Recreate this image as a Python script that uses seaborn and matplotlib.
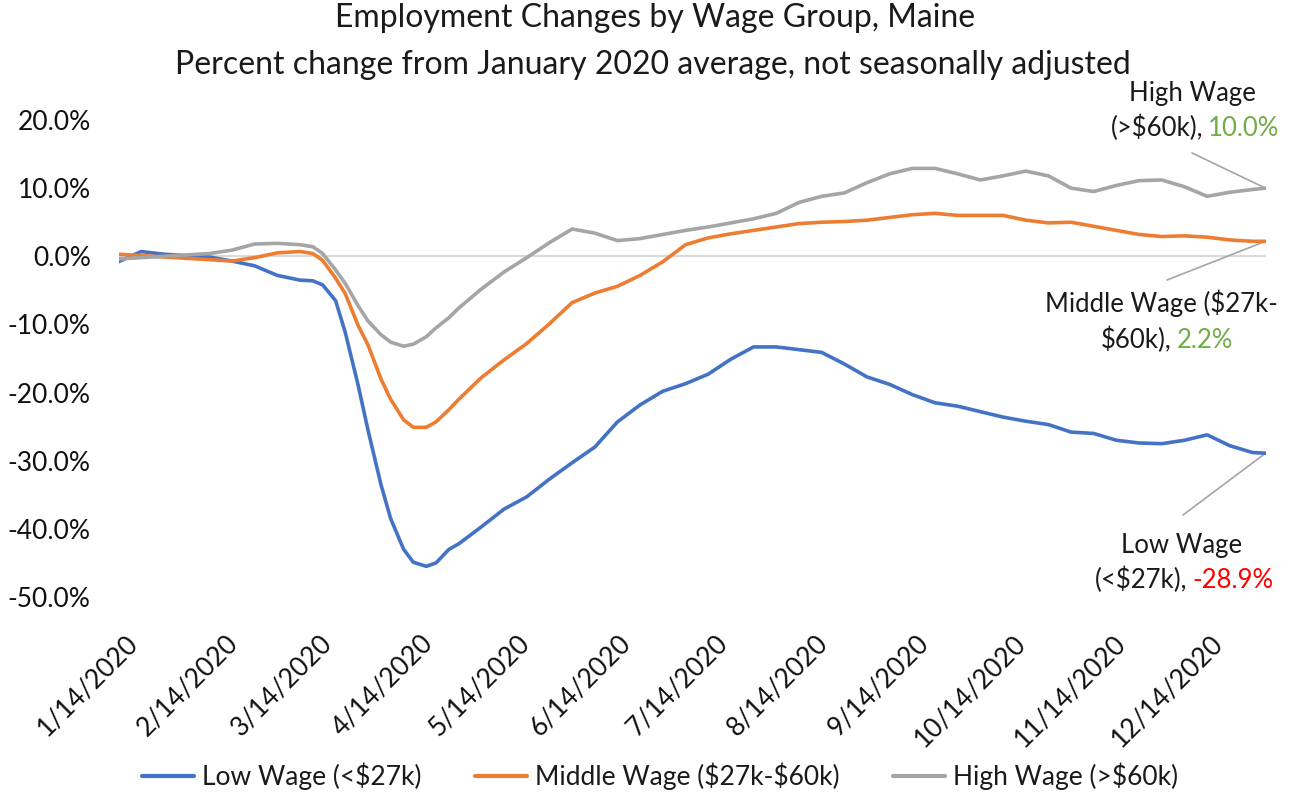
import matplotlib
matplotlib.use("Agg")
import matplotlib.pyplot as plt
import matplotlib.dates as mdates
from matplotlib.ticker import FuncFormatter, FixedLocator
from matplotlib.lines import Line2D
import seaborn as sns
import pandas as pd
import numpy as np

# ---------------- data ----------------
dates = [
    "2020-01-12", "2020-01-19", "2020-01-26", "2020-02-02", "2020-02-09", "2020-02-16",
    "2020-02-23", "2020-03-01", "2020-03-08", "2020-03-12", "2020-03-15", "2020-03-19",
    "2020-03-22", "2020-03-26", "2020-03-29", "2020-04-02", "2020-04-05", "2020-04-09",
    "2020-04-12", "2020-04-16", "2020-04-19", "2020-04-23", "2020-04-26", "2020-05-03",
    "2020-05-10", "2020-05-17", "2020-05-24", "2020-05-31", "2020-06-07", "2020-06-14",
    "2020-06-21", "2020-06-28", "2020-07-05", "2020-07-12", "2020-07-19", "2020-07-26",
    "2020-08-02", "2020-08-09", "2020-08-16", "2020-08-23", "2020-08-30", "2020-09-06",
    "2020-09-13", "2020-09-20", "2020-09-27", "2020-10-04", "2020-10-11", "2020-10-18",
    "2020-10-25", "2020-11-01", "2020-11-08", "2020-11-15", "2020-11-22", "2020-11-29",
    "2020-12-06", "2020-12-13", "2020-12-20", "2020-12-27", "2020-12-31",
]

low_wage = [
    -0.8, 0.7, 0.3, 0.1, -0.1, -0.7,
    -1.4, -2.8, -3.5, -3.6, -4.2, -6.5,
    -11.2, -19.0, -25.5, -33.5, -38.5, -43.0,
    -44.9, -45.5, -45.0, -43.0, -42.2, -39.7,
    -37.1, -35.3, -32.7, -30.3, -28.0, -24.3,
    -21.8, -19.8, -18.7, -17.3, -15.1, -13.3,
    -13.3, -13.7, -14.1, -15.8, -17.7, -18.8,
    -20.3, -21.5, -22.0, -22.8, -23.6, -24.2,
    -24.7, -25.8, -26.0, -27.0, -27.4, -27.5,
    -27.0, -26.2, -27.8, -28.8, -28.9,
]

middle_wage = [
    0.3, 0.1, -0.1, -0.3, -0.5, -0.7,
    -0.2, 0.5, 0.7, 0.4, -0.6, -3.2,
    -5.5, -10.2, -13.0, -18.0, -21.0, -24.0,
    -25.1, -25.1, -24.3, -22.5, -21.0, -17.8,
    -15.2, -12.8, -9.9, -6.8, -5.4, -4.4,
    -2.8, -0.8, 1.7, 2.7, 3.3, 3.8,
    4.3, 4.8, 5.0, 5.1, 5.3, 5.7,
    6.1, 6.3, 6.0, 6.0, 6.0, 5.3,
    4.9, 5.0, 4.4, 3.8, 3.2, 2.9,
    3.0, 2.8, 2.4, 2.2, 2.2,
]

high_wage = [
    -0.4, -0.2, 0.0, 0.2, 0.4, 0.9,
    1.8, 1.9, 1.7, 1.4, 0.4, -2.0,
    -4.0, -7.3, -9.5, -11.5, -12.6, -13.2,
    -12.9, -11.8, -10.5, -9.0, -7.6, -4.8,
    -2.3, -0.2, 2.0, 4.0, 3.4, 2.3,
    2.6, 3.2, 3.8, 4.3, 4.9, 5.5,
    6.3, 7.9, 8.8, 9.3, 10.8, 12.1,
    12.9, 12.9, 12.1, 11.2, 11.8, 12.5,
    11.8, 10.0, 9.5, 10.4, 11.1, 11.2,
    10.2, 8.8, 9.4, 9.8, 10.0,
]

series_names = ["Low Wage (<$27k)", "Middle Wage ($27k-$60k)", "High Wage (>$60k)"]
series_colors = ["#4472C4", "#ED7D31", "#A5A5A5"]
y_ticks = [20, 10, 0, -10, -20, -30, -40, -50]

title_lines = ["Employment Changes by Wage Group, Maine",
               "Percent change from January 2020 average, not seasonally adjusted"]

# ---------------- frame ----------------
d = pd.to_datetime(dates)
df = pd.concat([
    pd.DataFrame({"date": d, "value": low_wage, "group": series_names[0]}),
    pd.DataFrame({"date": d, "value": middle_wage, "group": series_names[1]}),
    pd.DataFrame({"date": d, "value": high_wage, "group": series_names[2]}),
], ignore_index=True)

sns.set_theme(style="white")
plt.rcParams["font.family"] = ["Lato", "DejaVu Sans"]
plt.rcParams["text.color"] = "#1a1a1a"
plt.rcParams["text.parse_math"] = False

W, H = 1290, 800
fig = plt.figure(figsize=(W / 100, H / 100), dpi=100)

def fx(px):
    return px / W

def fy(py):
    return 1 - py / H

ax = fig.add_axes([fx(118.5), fy(597), fx(1265.5) - fx(118.5), fy(120) - fy(597)])

ax.axhline(0, color="#D9D9D9", lw=1.5, zorder=1)

palette = dict(zip(series_names, series_colors))
sns.lineplot(data=df, x="date", y="value", hue="group", hue_order=series_names,
             palette=palette, linewidth=2.6, legend=False, ax=ax, zorder=3)

ax.set_xlim(d[0], d[-1])
ax.set_ylim(-50, 20)
for s in ax.spines.values():
    s.set_visible(False)
ax.grid(False)
ax.set_xlabel("")
ax.set_ylabel("")

ax.yaxis.set_major_locator(FixedLocator(y_ticks))
ax.yaxis.set_major_formatter(FuncFormatter(lambda v, p: f"{v:.1f}%"))
ax.tick_params(axis="y", length=0, pad=20, labelsize=19, labelcolor="#111111")

ax.xaxis.set_major_locator(mdates.MonthLocator(bymonthday=14))
ax.xaxis.set_major_formatter(FuncFormatter(
    lambda v, p: (lambda t: f"{t.month}/{t.day}/{t.year}")(mdates.num2date(v))))
ax.tick_params(axis="x", length=0, pad=24, labelsize=19, labelcolor="#111111")
for lab in ax.get_xticklabels():
    lab.set_rotation(45)
    lab.set_ha("right")
    lab.set_va("top")
    lab.set_rotation_mode("anchor")

# ---------------- title ----------------
fig.text(fx(655), fy(18), title_lines[0], ha="center", va="center", fontsize=23)
fig.text(fx(653), fy(65), title_lines[1], ha="center", va="center", fontsize=23)

# ---------------- end labels ----------------
ann_fs = 18.5
green = "#70AD47"
red = "#FF0000"
leader = "#A5A5A5"
ends = [low_wage[-1], middle_wage[-1], high_wage[-1]]

def leader_line(px, py, yval):
    ax.annotate("", xy=(d[-1], yval), xycoords="data",
                xytext=(fx(px), fy(py)), textcoords="figure fraction",
                arrowprops=dict(arrowstyle="-", color=leader, lw=1.2,
                                shrinkA=0, shrinkB=0), zorder=2)

# High wage
fig.text(fx(1192), fy(93), "High Wage", ha="center", va="center", fontsize=ann_fs)
fig.text(fx(1203), fy(128), "(>$60k),", ha="right", va="center", fontsize=ann_fs)
fig.text(fx(1208), fy(128), f"{ends[2]:.1f}%", ha="left", va="center",
         fontsize=ann_fs, color=green)
leader_line(1192, 153, ends[2])

# Middle wage
fig.text(fx(1161), fy(303), "Middle Wage ($27k-", ha="center", va="center", fontsize=ann_fs)
fig.text(fx(1172), fy(340), "$60k),", ha="right", va="center", fontsize=ann_fs)
fig.text(fx(1177), fy(340), f"{ends[1]:.1f}%", ha="left", va="center",
         fontsize=ann_fs, color=green)
leader_line(1167, 280, ends[1])

# Low wage
fig.text(fx(1182), fy(545), "Low Wage", ha="center", va="center", fontsize=ann_fs)
fig.text(fx(1187), fy(580), "(<$27k),", ha="right", va="center", fontsize=ann_fs)
fig.text(fx(1192), fy(580), f"{ends[0]:.1f}%", ha="left", va="center",
         fontsize=ann_fs, color=red)
leader_line(1183, 515, ends[0])

# ---------------- legend ----------------
handles = [Line2D([0], [0], color=c, lw=3) for c in series_colors]
fig.legend(handles, series_names, loc="center", bbox_to_anchor=(fx(660), fy(776)),
           ncol=3, frameon=False, fontsize=19, handlelength=2.0, handletextpad=0.3,
           columnspacing=2.0)

fig.savefig("out.png", dpi=100)
